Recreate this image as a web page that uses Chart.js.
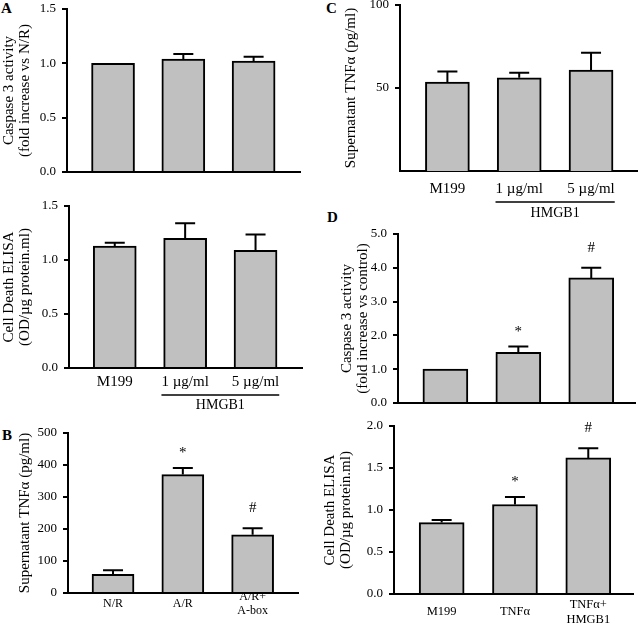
<!DOCTYPE html>
<html>
<head>
<meta charset="utf-8">
<script src="https://cdn.jsdelivr.net/npm/chart.js@4.4.0/dist/chart.umd.min.js"></script>
<style>
  html, body { margin: 0; padding: 0; background: #fff; }
  body { width: 640px; height: 628px; position: relative; overflow: hidden; }
  canvas { position: absolute; }
  .letter { position: absolute; font: bold 15px "Liberation Serif", serif; line-height: 15px; color: #000; }
</style>
</head>
<body>
<div class="letter" style="left:1px;top:1px">A</div>
<div class="letter" style="left:2px;top:428px">B</div>
<div class="letter" style="left:326px;top:1px">C</div>
<div class="letter" style="left:327px;top:210px">D</div>

<canvas id="caspaseA" width="310" height="195" style="left:0;top:-5px"></canvas>
<canvas id="deathA" width="312" height="224" style="left:0;top:192px"></canvas>
<canvas id="tnfB" width="310" height="209" style="left:0;top:419px"></canvas>
<canvas id="tnfC" width="320" height="229" style="left:320px;top:-9px"></canvas>
<canvas id="caspaseD" width="320" height="198" style="left:320px;top:220px"></canvas>
<canvas id="deathD" width="320" height="216" style="left:320px;top:412px"></canvas>

<script>
// panel A / C: HMGB1 treatment
const hmgbGroups = ['M199', '1 µg/ml', '5 µg/ml'];
const caspaseHmgb = [1.0, 1.04, 1.02];
const caspaseHmgbErr = [0, 0.045, 0.04];
const deathHmgb = [1.13, 1.20, 1.09];
const deathHmgbErr = [0.03, 0.14, 0.145];
const tnfHmgb = [53.5, 56.2, 60.8];
const tnfHmgbErr = [6.5, 3, 10.5];

// panel B: anoxia / reoxygenation
const arGroups = ['N/R', 'A/R', ['A/R+', 'A-box']];
const tnfAR = [58, 370, 182];
const tnfARErr = [13, 21, 20];
const arMarks = ['', '*', '#'];

// panel D: TNFα +/- HMGB1
const tnfGroups = ['M199', 'TNFα', ['TNFα+', 'HMGB1']];
const caspaseTnf = [1.0, 1.5, 3.7];
const caspaseTnfErr = [0, 0.17, 0.3];
const deathTnf = [0.85, 1.065, 1.62];
const deathTnfErr = [0.03, 0.09, 0.115];
const tnfMarks = ['', '*', '#'];

Chart.defaults.font.family = '"Liberation Serif", "Times New Roman", serif';
Chart.defaults.color = '#000';

// error bars, significance marks and the HMGB1 bracket
const extras = {
  id: 'extras',
  afterDatasetsDraw(chart, args, o) {
    const {ctx, scales: {x, y}} = chart;
    ctx.save();
    ctx.strokeStyle = '#000';
    ctx.fillStyle = '#000';
    ctx.lineWidth = 2;
    o.values.forEach((v, i) => {
      const px = x.getPixelForValue(i + 1);
      const e = o.errs[i];
      const top = y.getPixelForValue(v + e);
      if (e > 0) {
        ctx.beginPath();
        ctx.moveTo(px, y.getPixelForValue(v));
        ctx.lineTo(px, top);
        ctx.moveTo(px - 10, top);
        ctx.lineTo(px + 10, top);
        ctx.stroke();
      }
      const m = o.marks ? o.marks[i] : '';
      if (m) {
        ctx.font = '15px "Liberation Serif", serif';
        ctx.textAlign = 'center';
        ctx.textBaseline = 'alphabetic';
        ctx.fillText(m, px, top - (m === '*' ? 11 : 16));
      }
    });
    if (o.bracket) {
      ctx.font = o.labelSize + 'px "Liberation Serif", serif';
      const l = x.getPixelForValue(2) - ctx.measureText(o.labels[1]).width / 2;
      const r = x.getPixelForValue(3) + ctx.measureText(o.labels[2]).width / 2;
      const ly = y.bottom + o.bracket[0];
      ctx.lineWidth = 1.5;
      ctx.beginPath();
      ctx.moveTo(l, ly);
      ctx.lineTo(r, ly);
      ctx.stroke();
      ctx.font = '14px "Liberation Serif", serif';
      ctx.textAlign = 'center';
      ctx.textBaseline = 'middle';
      ctx.fillText('HMGB1', (l + r) / 2, y.bottom + o.bracket[1]);
    }
    ctx.restore();
  }
};

function barPanel(id, p) {
  new Chart(document.getElementById(id), {
    type: 'bar',
    data: {
      datasets: [{
        data: p.values.map((v, i) => ({x: i + 1, y: v})),
        backgroundColor: '#c0c0c0',
        borderColor: '#000',
        borderWidth: 2,
        barThickness: p.bar
      }]
    },
    options: {
      responsive: false,
      animation: false,
      events: [],
      layout: {padding: {top: 14, right: p.padRight, left: 0, bottom: 0}},
      plugins: {
        legend: {display: false},
        tooltip: {enabled: false},
        extras: {values: p.values, errs: p.errs, marks: p.marks, bracket: p.bracket,
                 labels: p.labels, labelSize: p.labelSize}
      },
      scales: {
        x: {
          type: 'linear',
          min: p.xRange[0],
          max: p.xRange[1],
          offset: false,
          z: 1,
          grid: {display: false, drawTicks: false, offset: false},
          border: {display: true, color: '#000', width: 2},
          ticks: {
            display: !!p.labels,
            stepSize: 1,
            includeBounds: false,
            maxRotation: 0,
            autoSkip: false,
            padding: p.labelPad || 0,
            crossAlign: 'center',
            font: {size: p.labelSize || 12, lineHeight: 1.15},
            callback: v => (p.labels ? p.labels[v - 1] : '')
          },
          afterFit: s => { s.height = p.xHeight; }
        },
        y: {
          min: p.yMin,
          max: p.yMax,
          z: 1,
          grid: {display: true, drawOnChartArea: false, drawTicks: true, tickLength: 5,
                 color: '#000', lineWidth: 2},
          border: {display: true, color: '#000', width: 2},
          ticks: {
            stepSize: p.step,
            padding: 6,
            font: {size: 13},
            callback: v => v.toFixed(p.dec)
          },
          afterBuildTicks: s => { if (p.hideZero) s.ticks = s.ticks.filter(t => t.value > 0); },
          title: {
            display: true,
            text: p.title,
            font: {size: 15, lineHeight: 1.05},
            padding: {top: p.titlePad, bottom: 0}
          },
          afterFit: s => { s.width = p.yWidth; }
        }
      }
    },
    plugins: [extras]
  });
}

barPanel('caspaseA', {
  values: caspaseHmgb, errs: caspaseHmgbErr,
  yMin: 0, yMax: 1.5, step: 0.5, dec: 1,
  title: ['Caspase 3 activity', '(fold increase vs N/R)'], titlePad: 1,
  padRight: 10, yWidth: 67, xHeight: 18,
  xRange: [0.345, 3.66], bar: 43
});

barPanel('deathA', {
  values: deathHmgb, errs: deathHmgbErr, labels: hmgbGroups, labelSize: 15, labelPad: 14,
  yMin: 0, yMax: 1.5, step: 0.5, dec: 1,
  title: ['Cell Death ELISA', '(OD/µg protein.ml)'], titlePad: 1,
  padRight: 10, yWidth: 69, xHeight: 48,
  xRange: [0.35, 3.66], bar: 43, bracket: [27, 37.5]
});

barPanel('tnfB', {
  values: tnfAR, errs: tnfARErr, marks: arMarks, labels: arGroups, labelSize: 12, labelPad: 4,
  yMin: 0, yMax: 500, step: 100, dec: 0,
  title: 'Supernatant TNFα (pg/ml)', titlePad: 17,
  padRight: 12, yWidth: 68, xHeight: 35,
  xRange: [0.355, 3.65], bar: 42
});

barPanel('tnfC', {
  values: tnfHmgb, errs: tnfHmgbErr, labels: hmgbGroups, labelSize: 15, labelPad: 18,
  yMin: 0, yMax: 100, step: 50, dec: 0, hideZero: true,
  title: 'Supernatant TNFα (pg/ml)', titlePad: 23,
  padRight: 3, yWidth: 80, xHeight: 49,
  xRange: [0.34, 3.64], bar: 44, bracket: [31, 42]
});

barPanel('caspaseD', {
  values: caspaseTnf, errs: caspaseTnfErr, marks: tnfMarks,
  yMin: 0, yMax: 5, step: 1, dec: 1,
  title: ['Caspase 3 activity', '(fold increase vs control)'], titlePad: 19,
  padRight: 5, yWidth: 78, xHeight: 15,
  xRange: [0.35, 3.6], bar: 45
});

barPanel('deathD', {
  values: deathTnf, errs: deathTnfErr, marks: tnfMarks, labels: tnfGroups, labelSize: 12.5, labelPad: 11,
  yMin: 0, yMax: 2, step: 0.5, dec: 1,
  title: ['Cell Death ELISA', '(OD/µg protein.ml)'], titlePad: 2,
  padRight: 7, yWidth: 74, xHeight: 34,
  xRange: [0.35, 3.61], bar: 45
});
</script>
</body>
</html>
